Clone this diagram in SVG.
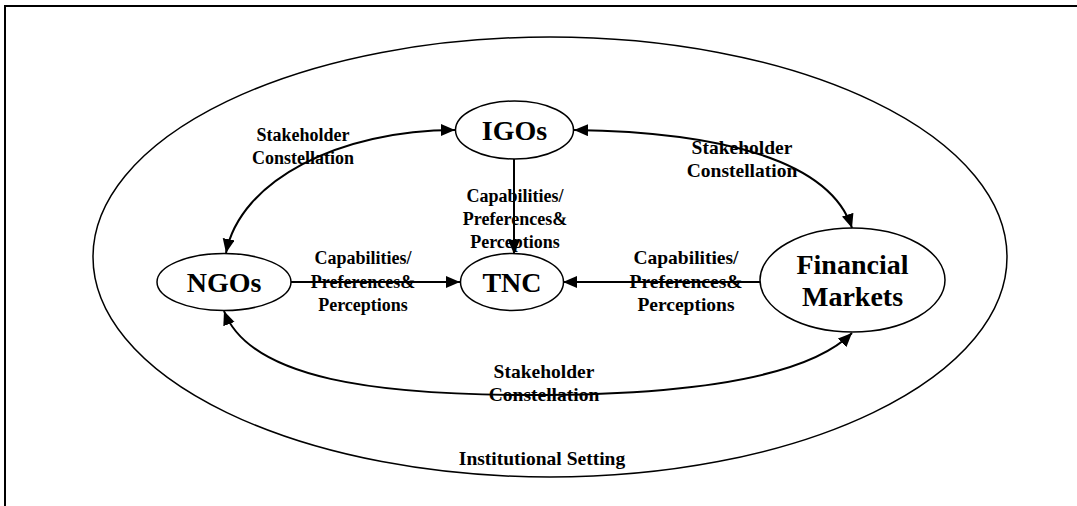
<svg xmlns="http://www.w3.org/2000/svg" width="1077" height="506" viewBox="0 0 1077 506">
<style>
.shape{fill:none;stroke:#000;stroke-width:1.5}
.conn{fill:none;stroke:#000;stroke-width:2}
.node{font-family:"Liberation Serif","Times New Roman",serif;font-weight:bold;font-size:28px;fill:#000;text-anchor:middle}
.lbl{font-family:"Liberation Serif","Times New Roman",serif;font-weight:bold;font-size:18px;fill:#000;text-anchor:middle}
.sm{font-size:17px}
.lg{font-size:19.5px}
</style>
<defs>
<marker id="ah" markerUnits="userSpaceOnUse" markerWidth="16" markerHeight="14" refX="14" refY="6" orient="auto-start-reverse">
<path d="M0,0 L14,6 L0,12 Z" fill="#000"/>
</marker>
</defs>
<rect width="1077" height="506" fill="#fff"/>
<g id="frame">
<path d="M5,506 L5,6 L1077,6" fill="none" stroke="#000" stroke-width="2"/>
</g>
<g id="institutional-setting">
<ellipse cx="550" cy="257" rx="457" ry="220" class="shape"/>
<text x="542" y="465" class="lbl lg">Institutional Setting</text>
</g>
<g id="connectors">
<path d="M226,253 C240,180 340,130 455,130" class="conn" marker-start="url(#ah)" marker-end="url(#ah)"/>
<path d="M574,130 C720,132 830,160 852,228" class="conn" marker-start="url(#ah)" marker-end="url(#ah)"/>
<path d="M224,311 C250,380 380,395 530,395 C700,395 810,375 852,333" class="conn" marker-start="url(#ah)" marker-end="url(#ah)"/>
<path d="M514,159 L514,254" class="conn" marker-end="url(#ah)"/>
<path d="M291,282 L460,282" class="conn" marker-end="url(#ah)"/>
<path d="M760,282 L563,282" class="conn" marker-end="url(#ah)"/>
</g>
<g id="labels">
<text x="303" y="141" class="lbl">Stakeholder</text>
<text x="303" y="164" class="lbl">Constellation</text>
<text x="742" y="154" class="lbl lg">Stakeholder</text>
<text x="742" y="177" class="lbl lg">Constellation</text>
<text x="515" y="202" class="lbl">Capabilities/</text>
<text x="515" y="225" class="lbl">Preferences&amp;</text>
<text x="515" y="248" class="lbl">Perceptions</text>
<text x="363" y="264" class="lbl">Capabilities/</text>
<text x="363" y="288" class="lbl">Preferences&amp;</text>
<text x="363" y="311" class="lbl">Perceptions</text>
<text x="686" y="264" class="lbl lg">Capabilities/</text>
<text x="686" y="288" class="lbl lg">Preferences&amp;</text>
<text x="686" y="311" class="lbl lg">Perceptions</text>
<text x="544" y="378" class="lbl lg">Stakeholder</text>
<text x="544" y="401" class="lbl lg">Constellation</text>
</g>
<g id="node-igos">
<ellipse cx="514.5" cy="130" rx="59" ry="29" class="shape"/>
<text x="514.5" y="140" class="node">IGOs</text>
</g>
<g id="node-ngos">
<ellipse cx="224" cy="282" rx="67" ry="28.5" class="shape"/>
<text x="224" y="292" class="node">NGOs</text>
</g>
<g id="node-tnc">
<ellipse cx="512" cy="282" rx="51.5" ry="28.5" class="shape"/>
<text x="512" y="292" class="node">TNC</text>
</g>
<g id="node-financial-markets">
<ellipse cx="852.5" cy="280" rx="92.5" ry="52" class="shape"/>
<text x="852.5" y="274" class="node">Financial</text>
<text x="852.5" y="306" class="node">Markets</text>
</g>
</svg>
